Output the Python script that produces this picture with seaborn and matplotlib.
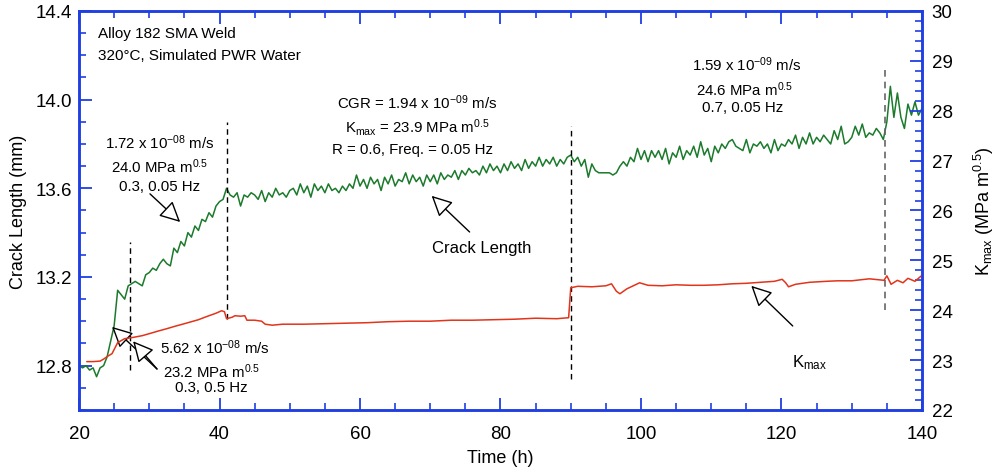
import numpy as np
import pandas as pd
import matplotlib
matplotlib.use('Agg')
import matplotlib.pyplot as plt
import seaborn as sns
from matplotlib.ticker import MultipleLocator, FormatStrFormatter

# ---------------- data ----------------
crack_start_h = 20.0
crack_step_h = 0.5
crack_mm = [
    12.80, 12.79, 12.80, 12.78, 12.79, 12.75, 12.79, 12.80, 12.84, 12.91,
    12.98, 13.14, 13.12, 13.10, 13.16, 13.17, 13.18, 13.17, 13.16, 13.21,
    13.22, 13.24, 13.23, 13.26, 13.28, 13.26, 13.25, 13.33, 13.31, 13.36,
    13.34, 13.40, 13.38, 13.43, 13.41, 13.46, 13.45, 13.49, 13.47, 13.52,
    13.54, 13.55, 13.60, 13.57, 13.56, 13.58, 13.52, 13.57, 13.56, 13.58,
    13.57, 13.55, 13.59, 13.54, 13.58, 13.56, 13.60, 13.57, 13.58, 13.56,
    13.59, 13.60, 13.57, 13.62, 13.58, 13.61, 13.56, 13.62, 13.59, 13.61,
    13.58, 13.62, 13.59, 13.60, 13.58, 13.61, 13.59, 13.62, 13.60, 13.66,
    13.61, 13.64, 13.60, 13.65, 13.62, 13.64, 13.59, 13.65, 13.62, 13.66,
    13.61, 13.64, 13.63, 13.67, 13.62, 13.66, 13.63, 13.65, 13.61, 13.66,
    13.63, 13.66, 13.62, 13.67, 13.64, 13.66, 13.65, 13.68, 13.64, 13.68,
    13.66, 13.69, 13.67, 13.68, 13.66, 13.70, 13.67, 13.71, 13.68, 13.70,
    13.67, 13.71, 13.68, 13.72, 13.69, 13.71, 13.68, 13.73, 13.69, 13.72,
    13.70, 13.74, 13.70, 13.73, 13.71, 13.74, 13.70, 13.73, 13.71, 13.74,
    13.75, 13.72, 13.74, 13.70, 13.73, 13.65, 13.71, 13.68, 13.67, 13.67,
    13.67, 13.67, 13.66, 13.67, 13.70, 13.72, 13.70, 13.74, 13.72, 13.78,
    13.73, 13.77, 13.72, 13.77, 13.74, 13.77, 13.73, 13.78, 13.71, 13.76,
    13.74, 13.79, 13.73, 13.77, 13.75, 13.79, 13.74, 13.81, 13.75, 13.78,
    13.72, 13.79, 13.76, 13.80, 13.78, 13.81, 13.82, 13.79, 13.78, 13.77,
    13.82, 13.76, 13.80, 13.79, 13.81, 13.78, 13.80, 13.76, 13.82, 13.77,
    13.80, 13.79, 13.82, 13.80, 13.84, 13.78, 13.83, 13.80, 13.85, 13.80,
    13.83, 13.81, 13.84, 13.82, 13.80, 13.86, 13.82, 13.88, 13.80, 13.81,
    13.83, 13.88, 13.84, 13.89, 13.83, 13.85, 13.84, 13.87, 13.85, 13.82,
    13.90, 14.06, 13.92, 14.03, 13.92, 13.87, 13.98, 13.93, 13.99, 13.93,
    13.96,
]

kmax_time_h = [
    21.1, 22.0, 23.0, 23.5, 24.0, 24.7, 25.5, 26.5, 27.5, 29.0,
    30.0, 31.2, 32.5, 33.7, 35.0, 36.0, 37.0, 38.3, 39.5, 40.3,
    40.7, 41.0, 41.8, 42.2, 43.0, 43.6, 43.9, 45.0, 46.0, 46.5,
    47.5, 49.0, 52.0, 55.0, 58.0, 61.0, 64.0, 67.0, 70.0, 73.0,
    76.0, 79.0, 82.0, 85.0, 88.0, 89.7, 90.0, 91.0, 93.0, 95.0,
    95.8, 96.5, 97.0, 98.0, 99.8, 101.0, 103.0, 105.0, 107.0, 109.0,
    111.0, 113.0, 115.0, 117.0, 119.0, 120.1, 120.6, 121.0, 122.0, 124.0,
    126.4, 128.0, 130.0, 132.5, 134.6, 135.0, 135.6, 136.5, 137.3, 138.0,
    139.0, 140.0,
]
kmax_mpa = [
    22.97, 22.97, 22.98, 23.02, 23.07, 23.13, 23.35, 23.43, 23.45, 23.49,
    23.53, 23.58, 23.63, 23.68, 23.73, 23.77, 23.81, 23.88, 23.94, 23.99,
    23.97, 23.83, 23.86, 23.89, 23.88, 23.89, 23.80, 23.80, 23.78, 23.72,
    23.70, 23.72, 23.72, 23.73, 23.74, 23.75, 23.77, 23.78, 23.78, 23.80,
    23.80, 23.81, 23.82, 23.84, 23.83, 23.85, 24.45, 24.48, 24.47, 24.49,
    24.53, 24.38, 24.33, 24.43, 24.55, 24.50, 24.49, 24.51, 24.50, 24.50,
    24.51, 24.53, 24.54, 24.56, 24.58, 24.62, 24.55, 24.47, 24.52, 24.56,
    24.58, 24.59, 24.59, 24.63, 24.60, 24.69, 24.52, 24.60, 24.55, 24.64,
    24.58, 24.70,
]

x_ticks = [20, 40, 60, 80, 100, 120, 140]

# ---------------- style ----------------
sns.set_theme(style='white')
plt.rcParams['font.family'] = ['Liberation Sans', 'DejaVu Sans']
plt.rcParams['mathtext.default'] = 'regular'
plt.rcParams['text.color'] = 'black'
plt.rcParams['axes.labelcolor'] = 'black'

BLUE = '#1f3fe0'
GREEN = '#1b7a2b'
RED = '#e2341a'

fig = plt.figure(figsize=(9.99, 4.77), dpi=100)
ax = fig.add_axes([0.0791, 0.1384, 0.8438, 0.8365])
ax2 = ax.twinx()

crack_time = crack_start_h + crack_step_h * np.arange(len(crack_mm))
df_c = pd.DataFrame({'time': crack_time, 'crack': crack_mm})
df_k = pd.DataFrame({'time': kmax_time_h, 'kmax': kmax_mpa})

sns.lineplot(data=df_c, x='time', y='crack', ax=ax, color=GREEN, lw=1.1)
sns.lineplot(data=df_k, x='time', y='kmax', ax=ax2, color=RED, lw=1.1)

ax.set_xlim(20, 140)
ax.set_ylim(12.6, 14.4)
ax2.set_ylim(22, 30)

ax.set_xticks(x_ticks)
ax.xaxis.set_minor_locator(MultipleLocator(5))
ax.yaxis.set_major_locator(MultipleLocator(0.4))
ax.yaxis.set_minor_locator(MultipleLocator(0.1))
ax.yaxis.set_major_formatter(FormatStrFormatter('%.1f'))
ax2.yaxis.set_major_locator(MultipleLocator(1))
ax2.yaxis.set_minor_locator(MultipleLocator(0.2))

for a in (ax, ax2):
    for s in a.spines.values():
        s.set_color(BLUE)
        s.set_linewidth(1.8)

ax.tick_params(axis='x', which='both', direction='in', top=True, bottom=True,
               colors=BLUE, labelcolor='black', labelsize=13.5, pad=11)
ax.tick_params(axis='y', which='both', direction='in', left=True, right=False,
               colors=BLUE, labelcolor='black', labelsize=13.5, pad=5)
ax2.tick_params(axis='y', which='both', direction='in', right=True,
                colors=BLUE, labelcolor='black', labelsize=13.5, pad=7)
for a in (ax, ax2):
    a.tick_params(which='major', length=9, width=1.3)
    a.tick_params(which='minor', length=5, width=1.2)

ax.set_xlabel('Time (h)', fontsize=13, color='black', labelpad=5)
ax.set_ylabel('Crack Length (mm)', fontsize=13, color='black', labelpad=6)
ax2.set_ylabel('K$_{max}$ (MPa m$^{0.5}$)', fontsize=13, color='black', labelpad=14)

# dashed markers of condition changes
ax.vlines(27.3, 12.78, 13.36, colors='black', linestyles=(0, (4, 3)), lw=1)
ax.vlines(41.0, 13.01, 13.90, colors='black', linestyles=(0, (4, 3)), lw=1)
ax.vlines(90.1, 12.74, 13.88, colors='black', linestyles=(0, (4, 3)), lw=1)
ax.vlines(134.8, 13.05, 14.14, colors='#666666', linestyles=(0, (4, 3)), lw=1.2)

# texts
fs = 10.8
ax.text(22.7, 14.30, 'Alloy 182 SMA Weld', fontsize=11, ha='left', va='center')
ax.text(22.7, 14.20, '320°C, Simulated PWR Water', fontsize=11, ha='left', va='center')

ax.text(31.5, 13.81, '1.72 x 10$^{-08}$ m/s', fontsize=fs, ha='center', va='center')
ax.text(31.5, 13.70, '24.0 MPa m$^{0.5}$', fontsize=fs, ha='center', va='center')
ax.text(31.5, 13.61, '0.3, 0.05 Hz', fontsize=fs, ha='center', va='center')

ax.text(39.3, 12.885, '5.62 x 10$^{-08}$ m/s', fontsize=fs, ha='center', va='center')
ax.text(38.9, 12.778, '23.2 MPa m$^{0.5}$', fontsize=fs, ha='center', va='center')
ax.text(38.9, 12.705, '0.3, 0.5 Hz', fontsize=fs, ha='center', va='center')

ax.text(68.1, 13.99, 'CGR = 1.94 x 10$^{-09}$ m/s', fontsize=fs, ha='center', va='center')
ax.text(68.1, 13.88, 'K$_{max}$ = 23.9 MPa m$^{0.5}$', fontsize=fs, ha='center', va='center')
ax.text(67.5, 13.777, 'R = 0.6, Freq. = 0.05 Hz', fontsize=fs, ha='center', va='center')

ax.text(77.3, 13.335, 'Crack Length', fontsize=12, ha='center', va='center')

ax.text(115.0, 14.16, '1.59 x 10$^{-09}$ m/s', fontsize=fs, ha='center', va='center')
ax.text(114.7, 14.05, '24.6 MPa m$^{0.5}$', fontsize=fs, ha='center', va='center')
ax.text(114.4, 13.967, '0.7, 0.05 Hz', fontsize=fs, ha='center', va='center')

ax.text(124.0, 12.82, 'K$_{max}$', fontsize=12, ha='center', va='center')

# arrows (hollow heads)
arr = dict(arrowstyle='-|>,head_length=0.9,head_width=0.45', fc='white', ec='black',
           lw=1, shrinkA=0, shrinkB=0, mutation_scale=14)
ax.annotate('', xy=(34.4, 13.448), xytext=(30.1, 13.575), arrowprops=arr)
ax.annotate('', xy=(24.7, 12.975), xytext=(31.1, 12.785), arrowprops=arr)
ax.annotate('', xy=(27.7, 12.91), xytext=(31.1, 12.785), arrowprops=arr)
ax.annotate('', xy=(70.2, 13.566), xytext=(75.6, 13.403), arrowprops=arr)
ax.annotate('', xy=(115.7, 13.16), xytext=(121.6, 12.979), arrowprops=arr)

fig.savefig('out.png', dpi=100)
